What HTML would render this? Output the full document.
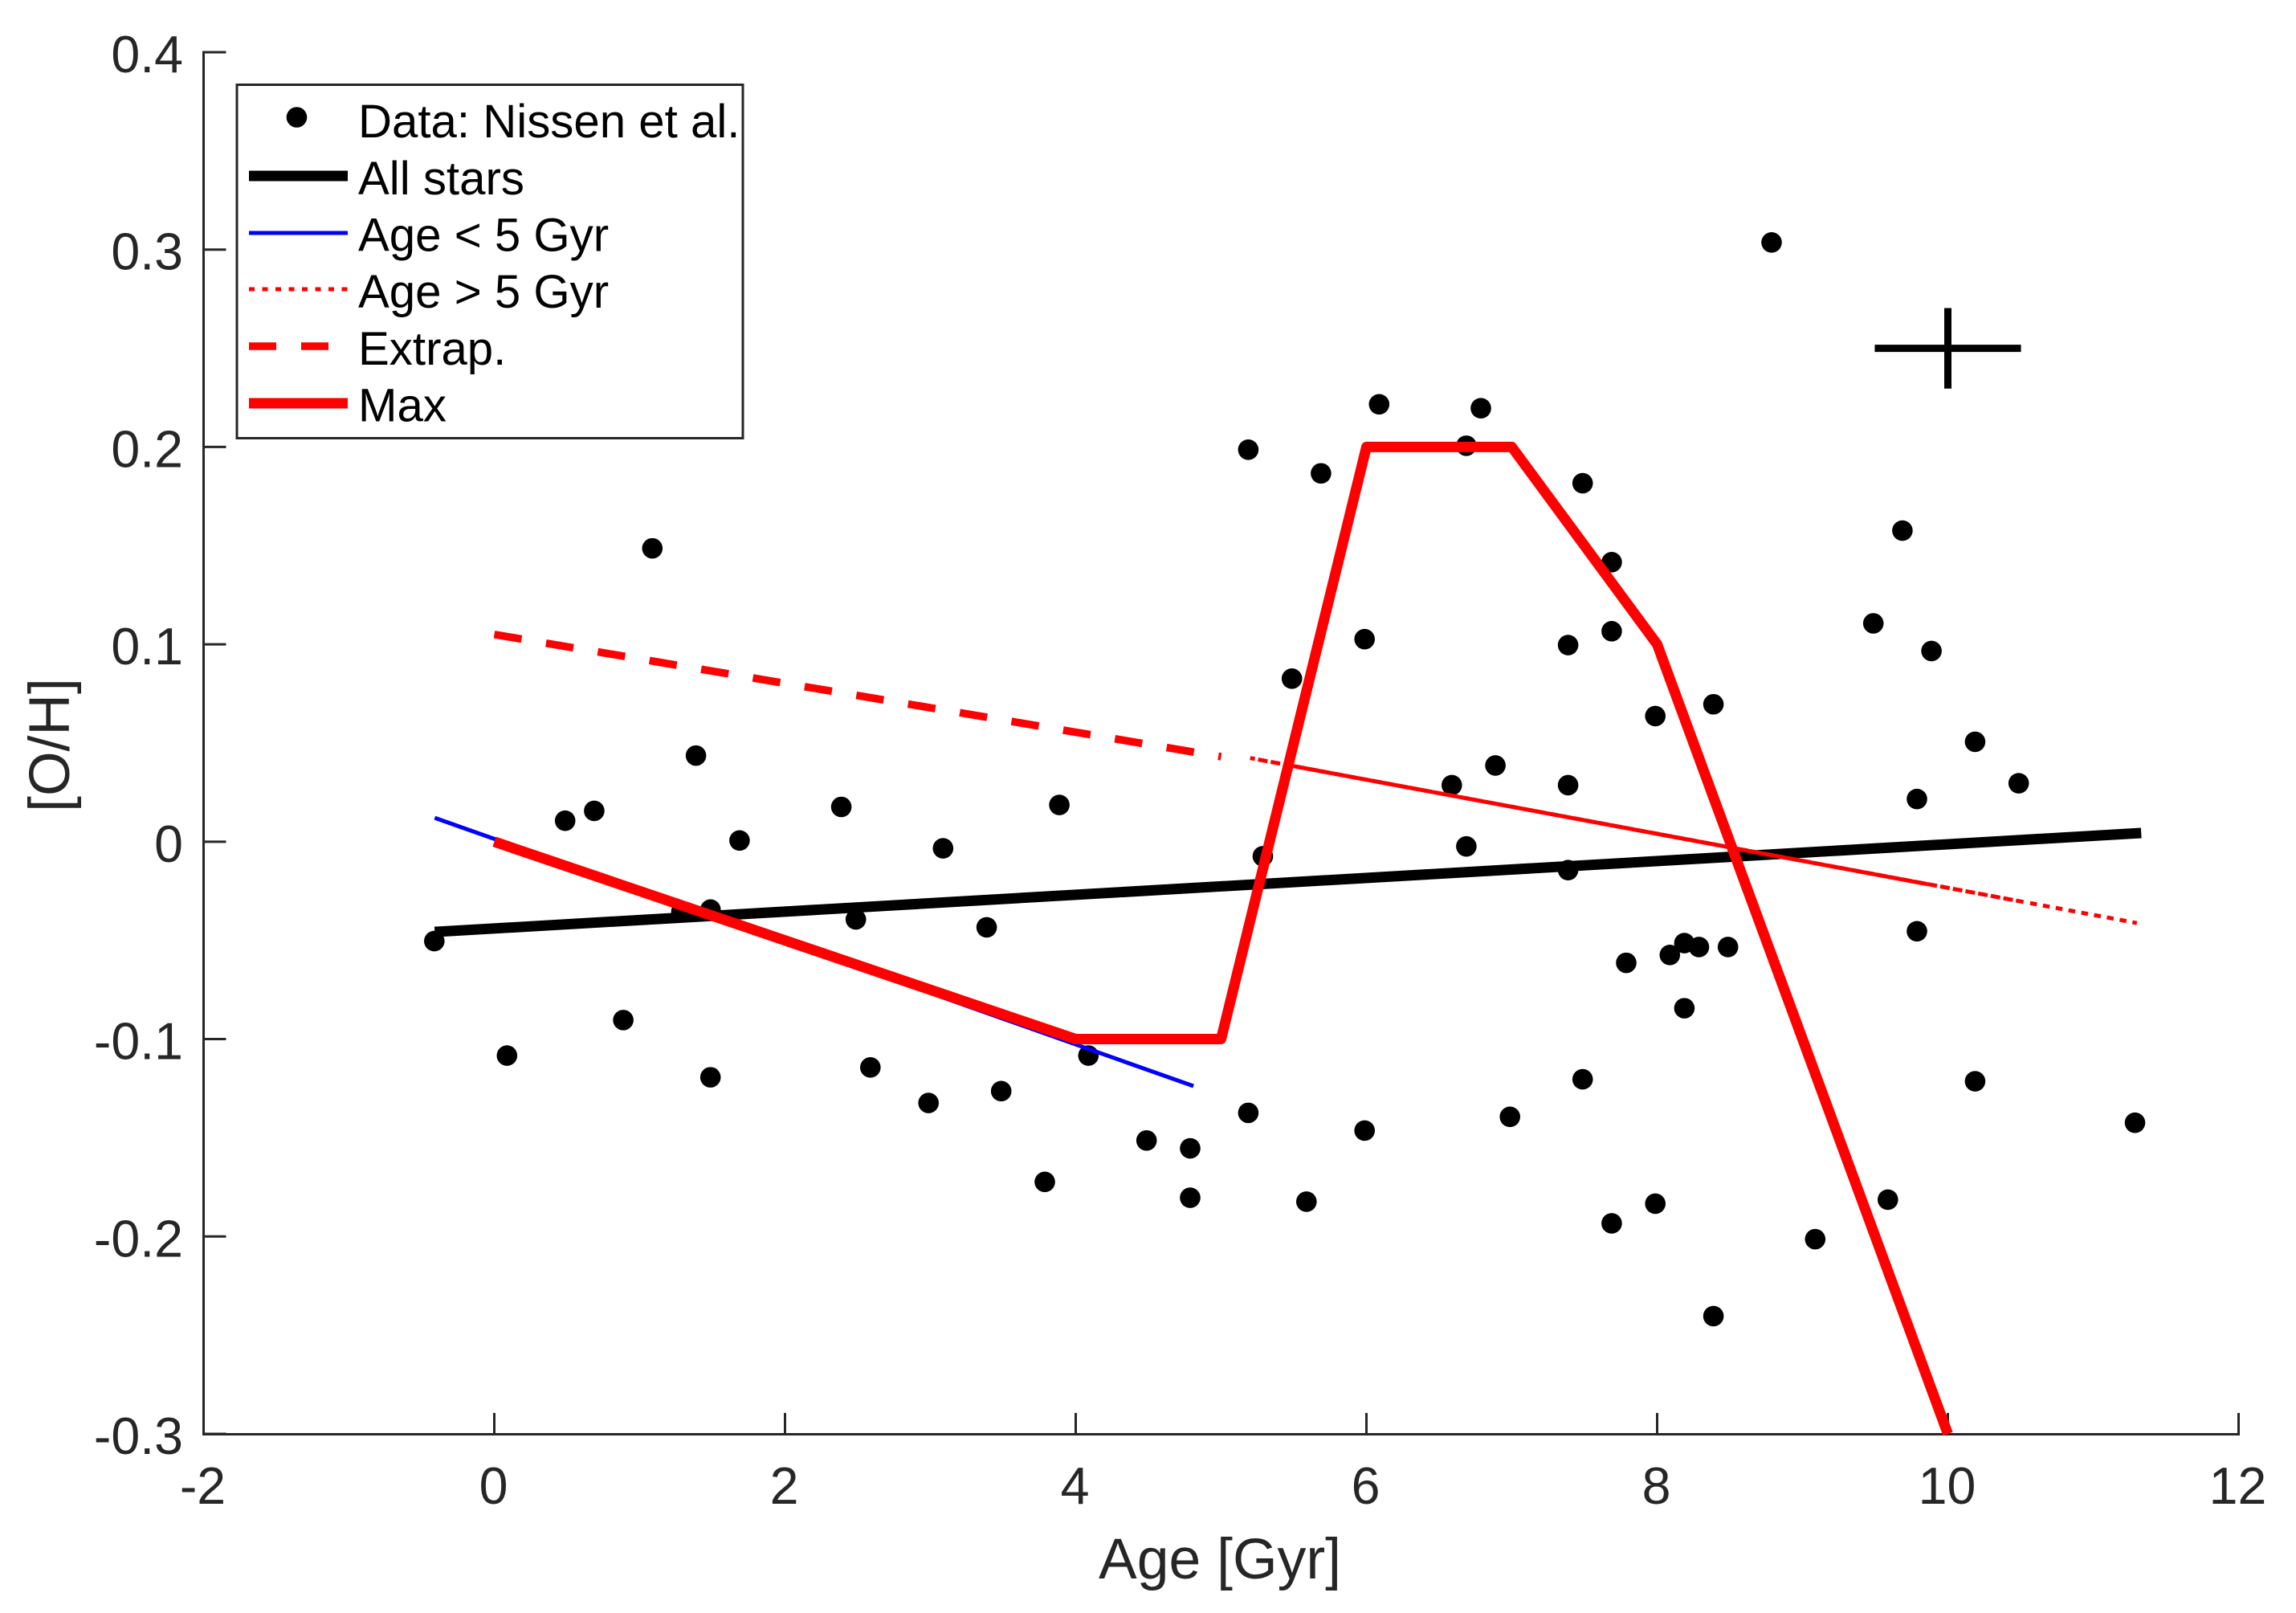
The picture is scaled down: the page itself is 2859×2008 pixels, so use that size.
<!DOCTYPE html>
<html>
<head>
<meta charset="utf-8">
<title>Age vs [O/H]</title>
<style>
html,body{margin:0;padding:0;background:#fff;}
svg{display:block;font-family:"Liberation Sans",sans-serif;}
</style>
</head>
<body>
<svg id="chart" xmlns="http://www.w3.org/2000/svg" width="2859" height="2008" viewBox="0 0 2859 2008">
  <rect x="0" y="0" width="2859" height="2008" fill="#fff"/>
  <g id="axes"></g>
  <g id="marks"></g>
  <text x="1519" y="1965" font-size="71.5" fill="#262626" text-anchor="middle">Age [Gyr]</text>
  <text transform="translate(86,927.5) rotate(-90)" font-size="71.5" fill="#262626" text-anchor="middle">[O/H]</text>
  <g>
    <rect x="295" y="105.5" width="630" height="440" fill="#fff" stroke="#262626" stroke-width="3"/>
    <circle cx="369.5" cy="146" r="12.8" fill="#000"/>
    <text x="446" y="171" font-size="58.2" fill="#000">Data: Nissen et al.</text>
    <line x1="310" x2="433" y1="219" y2="219" stroke="#000" stroke-width="13"/>
    <text x="446" y="242" font-size="58.2" fill="#000">All stars</text>
    <line x1="310" x2="433" y1="290" y2="290" stroke="#00f" stroke-width="5"/>
    <text x="446" y="312.5" font-size="58.2" fill="#000">Age &lt; 5 Gyr</text>
    <line x1="310" x2="433" y1="360" y2="360" stroke="#f00" stroke-width="5" stroke-dasharray="7 9.5"/>
    <text x="446" y="383" font-size="58.2" fill="#000">Age &gt; 5 Gyr</text>
    <line x1="310" x2="433" y1="431" y2="431" stroke="#f00" stroke-width="9.5" stroke-dasharray="34 31"/>
    <text x="446" y="454" font-size="58.2" fill="#000">Extrap.</text>
    <line x1="310" x2="433" y1="502" y2="502" stroke="#f00" stroke-width="13"/>
    <text x="446" y="524.5" font-size="58.2" fill="#000">Max</text>
  </g>
</svg>
<script>
const xTicks = [-2, 0, 2, 4, 6, 8, 10, 12];
const xTickLabels = ['-2', '0', '2', '4', '6', '8', '10', '12'];
const yTicks = [-0.3, -0.2, -0.1, 0, 0.1, 0.2, 0.3, 0.4];
const yTickLabels = ['-0.3', '-0.2', '-0.1', '0', '0.1', '0.2', '0.3', '0.4'];

const dataAge = [-0.4, 0.1, 0.5, 0.7, 0.9, 1.1, 1.3, 1.4, 1.5, 1.5, 1.7, 2.4, 2.5, 2.6, 3.0, 3.1, 3.4, 3.5, 3.8, 3.9, 4.1, 4.5, 4.8, 4.8, 5.2, 5.2, 5.3, 5.5, 5.6, 5.7, 6.0, 6.0, 6.1, 6.6, 6.7, 6.7, 6.8, 6.9, 7.0, 7.4, 7.4, 7.4, 7.5, 7.5, 7.7, 7.7, 7.7, 7.8, 8.0, 8.0, 8.1, 8.2, 8.2, 8.3, 8.4, 8.4, 8.5, 8.8, 9.1, 9.5, 9.6, 9.7, 9.8, 9.8, 9.9, 10.2, 10.2, 10.5, 11.3];
const dataOH = [-0.05, -0.108, 0.011, 0.016, -0.09, 0.149, -0.035, 0.044, -0.034, -0.119, 0.001, 0.018, -0.039, -0.114, -0.132, -0.003, -0.043, -0.126, -0.172, 0.019, -0.108, -0.151, -0.155, -0.18, 0.199, -0.137, -0.007, 0.083, -0.182, 0.187, 0.103, -0.146, 0.222, 0.029, 0.201, -0.002, 0.22, 0.039, -0.139, 0.1, 0.029, -0.014, 0.182, -0.12, 0.142, 0.107, -0.193, -0.061, 0.064, -0.183, -0.057, -0.051, -0.084, -0.053, 0.07, -0.24, -0.053, 0.304, -0.201, 0.111, -0.181, 0.158, 0.022, -0.045, 0.097, 0.051, -0.121, 0.03, -0.142];

const allStarsX = [-0.41, 11.33];
const allStarsY = [-0.0457, 0.0044];
const youngX = [-0.41, 4.81];
const youngY = [0.0121, -0.1238];
const extrapX = [0, 5];
const extrapY = [0.105, 0.0431];
const oldSolidX = [5.44, 9.86];
const oldSolidY = [0.0391, -0.0215];
const oldDenseX = [5.2, 10.52];
const oldDenseY = [0.0424, -0.0305];
const oldDotX = [10.566, 11.3];
const oldDotY = [-0.0311, -0.0412];
const maxX = [0, 4, 5, 6, 7, 8, 10];
const maxY = [0, -0.1, -0.1, 0.2, 0.2, 0.1, -0.3];
const errorX = [10];
const errorY = [0.25];
const errorHalfX = [0.503];
const errorHalfY = [0.0204];

const SVGNS = 'http://www.w3.org/2000/svg';
const axes = document.getElementById('axes');
const marks = document.getElementById('marks');
function X(v) { return 253.5 + (v + 2) * 181; }
function Y(v) { return 65 + (0.4 - v) * 2457.1; }
function pts(xs, ys) { return xs.map(function (x, i) { return X(x).toFixed(2) + ',' + Y(ys[i]).toFixed(2); }).join(' '); }
function make(tag, attrs, parent) {
  const n = document.createElementNS(SVGNS, tag);
  Object.keys(attrs).forEach(function (k) { n.setAttribute(k, attrs[k]); });
  parent.appendChild(n);
  return n;
}

let el;
el = make('line', { x1: X(-2), x2: X(-2), y1: Y(-0.3) + 1.5, y2: Y(0.4) - 1.5, stroke: '#262626', 'stroke-width': 3 }, axes);


el = make('line', { x1: X(-2) - 1.5, x2: X(12) + 1.5, y1: Y(-0.3) + 0.5, y2: Y(-0.3) + 0.5, stroke: '#262626', 'stroke-width': 3 }, axes);



xTicks.forEach(function (t, i) {
  const tick = make('line', { x1: X(t), x2: X(t), y1: Y(-0.3), y2: Y(-0.3) - 26, stroke: '#262626', 'stroke-width': 3 }, axes);
  
  
  const label = make('text', { x: X(t) - 1, y: 1872, 'font-size': 64.5, fill: '#262626', 'text-anchor': 'middle' }, axes);
  
  
  label.textContent = xTickLabels[i];
});
yTicks.forEach(function (t, i) {
  const tick = make('line', { x1: X(-2), x2: X(-2) + 28, y1: Y(t), y2: Y(t), stroke: '#262626', 'stroke-width': 3 }, axes);
  
  
  const label = make('text', { x: 228, y: Y(t) + 25, 'font-size': 64.5, fill: '#262626', 'text-anchor': 'end' }, axes);
  
  
  label.textContent = yTickLabels[i];
});

dataAge.forEach(function (a, i) {
  const dot = make('circle', { cx: X(a) - 2.3, cy: Y(dataOH[i]) + 0.9, r: 12.8, fill: '#000' }, marks);
  
  
});

el = make('polyline', { points: pts(allStarsX, allStarsY), fill: 'none', stroke: '#000', 'stroke-width': 13 }, marks);


el = make('polyline', { points: pts(youngX, youngY), fill: 'none', stroke: '#00f', 'stroke-width': 5 }, marks);


el = make('polyline', { points: pts(extrapX, extrapY), fill: 'none', stroke: '#f00', 'stroke-width': 9.5, 'stroke-dasharray': '34.5 30.8' }, marks);


el = make('polyline', { points: pts(oldDenseX, oldDenseY), fill: 'none', stroke: '#f00', 'stroke-width': 5, 'stroke-dasharray': '12 4', 'stroke-dashoffset': 6 }, marks);


el = make('polyline', { points: pts(oldSolidX, oldSolidY), fill: 'none', stroke: '#f00', 'stroke-width': 5 }, marks);


el = make('polyline', { points: pts(oldDotX, oldDotY), fill: 'none', stroke: '#f00', 'stroke-width': 5, 'stroke-dasharray': '8.5 7.7' }, marks);


el = make('polyline', { points: pts(maxX, maxY), fill: 'none', stroke: '#f00', 'stroke-width': 13, 'stroke-linejoin': 'round' }, marks);



el = make('line', { x1: X(errorX[0] - errorHalfX[0]), x2: X(errorX[0] + errorHalfX[0]), y1: Y(errorY[0]), y2: Y(errorY[0]), stroke: '#000', 'stroke-width': 9 }, marks);


el = make('line', { x1: X(errorX[0]), x2: X(errorX[0]), y1: Y(errorY[0] - errorHalfY[0]), y2: Y(errorY[0] + errorHalfY[0]), stroke: '#000', 'stroke-width': 9 }, marks);


</script>
</body>
</html>
